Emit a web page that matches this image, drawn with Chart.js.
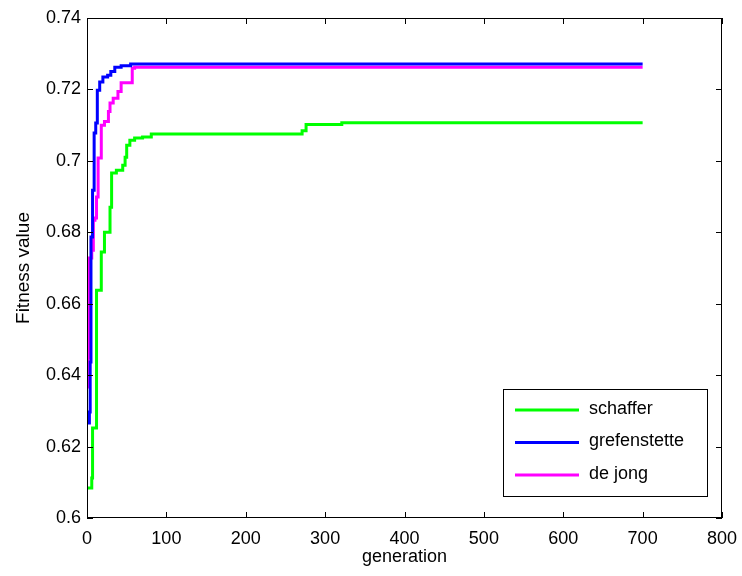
<!DOCTYPE html>
<html>
<head>
<meta charset="utf-8">
<script src="https://cdn.jsdelivr.net/npm/chart.js@4"></script>
<style>
  body { margin: 0; background: #fff; }
  #wrap { width: 742px; height: 576px; }
</style>
</head>
<body>
<div id="wrap"><canvas id="fit"></canvas></div>
<script>
// generation at which each step starts, and the best fitness from there on
const schafferGen = [0, 6, 7, 12, 18, 22, 29, 31, 37, 45, 48, 50, 54, 60, 70, 81, 271, 276, 321, 700];
const schafferFit = [0.6084, 0.6112, 0.6252, 0.6638, 0.6745, 0.6800, 0.6870, 0.6966, 0.6974, 0.6988, 0.7010, 0.7044, 0.7058, 0.7064, 0.7067, 0.7075, 0.7084, 0.7102, 0.7107, 0.7107];

const grefGen = [0, 3, 4, 5, 7, 9, 11, 13, 16, 20, 26, 30, 35, 43, 55, 700];
const grefFit = [0.6266, 0.6297, 0.6437, 0.6787, 0.6918, 0.7078, 0.7106, 0.7198, 0.7221, 0.7235, 0.7240, 0.7250, 0.7262, 0.7266, 0.7271, 0.7271];

const dejongGen = [0, 1, 2, 6, 8, 10, 12, 14, 18, 22, 27, 29, 33, 39, 43, 57, 60, 700];
const dejongFit = [0.6367, 0.6448, 0.6728, 0.6750, 0.6834, 0.6840, 0.6899, 0.7008, 0.7100, 0.7110, 0.7138, 0.7162, 0.7175, 0.7194, 0.7219, 0.7259, 0.7262, 0.7262];

const xTicks = [0, 100, 200, 300, 400, 500, 600, 700, 800];
const yTicks = [0.6, 0.62, 0.64, 0.66, 0.68, 0.7, 0.72, 0.74];

const FONT = "'Liberation Sans', Arial, sans-serif";

function pts(gen, fit) {
  return gen.map((g, i) => ({ x: g, y: fit[i] }));
}

// box round the axes, inward ticks and the legend box
const matlabFrame = {
  id: 'matlabFrame',
  afterDraw(chart) {
    const { ctx, chartArea: a, scales } = chart;
    ctx.save();
    ctx.strokeStyle = '#000';
    ctx.lineWidth = 1;
    ctx.strokeRect(a.left + 0.5, a.top + 0.5, a.right - a.left - 1, a.bottom - a.top - 1);
    ctx.beginPath();
    xTicks.forEach(v => {
      const x = Math.round(scales.x.getPixelForValue(v)) + 0.5;
      ctx.moveTo(x, a.bottom); ctx.lineTo(x, a.bottom - 6);
      ctx.moveTo(x, a.top); ctx.lineTo(x, a.top + 6);
    });
    yTicks.forEach(v => {
      const y = Math.round(scales.y.getPixelForValue(v)) + 0.5;
      ctx.moveTo(a.left, y); ctx.lineTo(a.left + 6, y);
      ctx.moveTo(a.right, y); ctx.lineTo(a.right - 6, y);
    });
    ctx.stroke();

    // legend
    const lx = 503, ly = 389, lw = 204, lh = 107;
    ctx.fillStyle = '#fff';
    ctx.fillRect(lx, ly, lw, lh);
    ctx.strokeRect(lx + 0.5, ly + 0.5, lw, lh);
    ctx.font = '18px ' + FONT;
    ctx.textBaseline = 'middle';
    chart.data.datasets.forEach((ds, i) => {
      const y = ly + 21 + i * 32.5;
      ctx.strokeStyle = ds.borderColor;
      ctx.lineWidth = 3;
      ctx.beginPath();
      ctx.moveTo(lx + 12, y); ctx.lineTo(lx + 76, y);
      ctx.stroke();
      ctx.fillStyle = '#000';
      ctx.fillText(ds.label, lx + 86, y - 1);
    });
    ctx.restore();
  }
};

new Chart(document.getElementById('fit'), {
  type: 'line',
  data: {
    datasets: [
      { label: 'schaffer', data: pts(schafferGen, schafferFit), borderColor: '#00ff00' },
      { label: 'grefenstette', data: pts(grefGen, grefFit), borderColor: '#0000ff' },
      { label: 'de jong', data: pts(dejongGen, dejongFit), borderColor: '#ff00ff' }
    ]
  },
  options: {
    responsive: true,
    maintainAspectRatio: false,
    animation: false,
    layout: { padding: { top: 18, right: 20, left: 0, bottom: 0 } },
    elements: {
      line: { stepped: 'before', borderWidth: 3, tension: 0 },
      point: { radius: 0 }
    },
    plugins: { legend: { display: false }, tooltip: { enabled: false } },
    scales: {
      x: {
        type: 'linear',
        min: 0, max: 800,
        afterBuildTicks: s => { s.ticks = xTicks.map(v => ({ value: v })); },
        afterFit: s => { s.height = 58; s.paddingLeft = 0; s.paddingRight = 0; },
        grid: { display: false, drawTicks: false, tickLength: 0 },
        border: { display: false },
        ticks: { color: '#000', font: { family: FONT, size: 18 }, padding: 10, maxRotation: 0 },
        title: { display: true, text: 'generation', color: '#000', font: { family: FONT, size: 18 }, padding: { top: 0, bottom: 8 } }
      },
      y: {
        type: 'linear',
        min: 0.6, max: 0.74,
        afterBuildTicks: s => { s.ticks = yTicks.map(v => ({ value: v })); },
        afterFit: s => { s.width = 87; },
        grid: { display: false, drawTicks: false, tickLength: 0 },
        border: { display: false },
        ticks: { color: '#000', font: { family: FONT, size: 18 }, padding: 6, callback: v => String(+v.toFixed(2)) },
        title: { display: true, text: 'Fitness value', color: '#000', font: { family: FONT, size: 19 }, padding: { top: 12, bottom: 0 } }
      }
    }
  },
  plugins: [matlabFrame]
});
</script>
</body>
</html>
